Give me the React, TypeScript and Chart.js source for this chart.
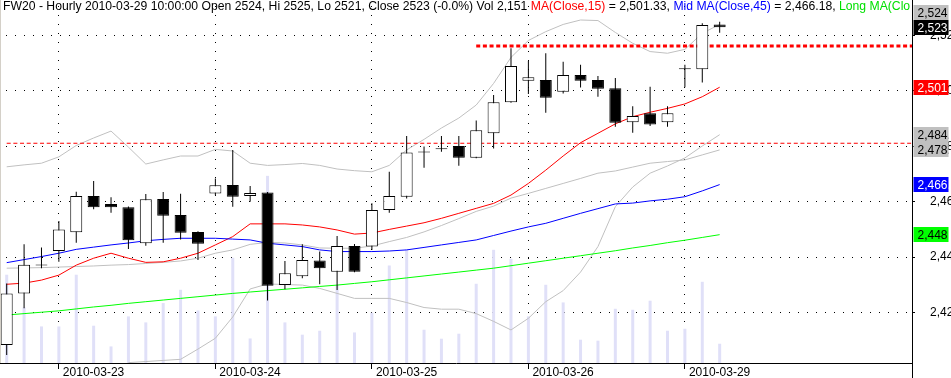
import React, { useEffect, useRef } from 'react';
import { Chart, registerables } from 'chart.js';

Chart.register(...registerables);

// ---- data (hourly candles, 2010-03-22 .. 2010-03-29) ----
const opens = [2408.3, 2426.9, 2437.0, 2442.2, 2449.0, 2462.1, 2459.2, 2458.0, 2445.0, 2461.0, 2455.2, 2449.1, 2463.0, 2466.0, 2462.1, 2463.3, 2429.9, 2433.1, 2438.8, 2434.7, 2444.0, 2443.8, 2457.0, 2461.8, 2477.8, 2478.9, 2480.1, 2475.9, 2484.7, 2495.9, 2503.7, 2503.9, 2499.7, 2505.7, 2503.9, 2501.0, 2488.7, 2491.9, 2488.7, 2507.8, 2507.8, 2524];
const highs = [2430.5, 2444.6, 2443.5, 2453.0, 2463.6, 2467.5, 2461.6, 2458.3, 2462.8, 2463.5, 2462.9, 2449.3, 2468.4, 2478.7, 2465.7, 2463.5, 2438.6, 2444.6, 2442.0, 2447.6, 2444.7, 2459.4, 2470.8, 2483.7, 2479.9, 2483.7, 2483.7, 2489.3, 2498.5, 2515.4, 2510.8, 2513.6, 2510.5, 2509.4, 2505.4, 2504.7, 2494.5, 2501.5, 2494.5, 2509.4, 2524.4, 2525];
const lows = [2404.7, 2421.5, 2436.0, 2438.3, 2445.2, 2457.3, 2456.0, 2442.9, 2444.1, 2445.2, 2446.4, 2439.0, 2462.3, 2458.2, 2460.0, 2424.3, 2428.4, 2432.4, 2430.2, 2428.1, 2434.5, 2442.6, 2456.0, 2461.2, 2472.3, 2478.0, 2473.0, 2475.7, 2479.2, 2495.7, 2498.9, 2492.1, 2499.1, 2501.2, 2497.9, 2487.1, 2484.9, 2487.3, 2487.1, 2501.3, 2503.0, 2521];
const closes = [2426.9, 2437.2, 2437.0, 2450.0, 2462.1, 2458.0, 2458.0, 2446.1, 2460.9, 2454.9, 2448.8, 2444.8, 2465.9, 2461.8, 2463.1, 2429.7, 2434.2, 2439.0, 2436.0, 2444.0, 2434.7, 2457.0, 2462.1, 2477.8, 2477.8, 2478.9, 2475.9, 2485.8, 2495.9, 2509.0, 2504.9, 2497.5, 2505.7, 2503.7, 2500.8, 2488.5, 2490.9, 2487.9, 2491.9, 2507.8, 2523.8, 2523];
const volumes = [9850, 6200, 4080, 4080, 9850, 4160, 1850, 5200, 4530, 6690, 8170, 5860, 5200, 11740, 2740, 20880, 4530, 3160, 3600, 8700, 3410, 5610, 10880, 12630, 3710, 2710, 3270, 8840, 12630, 11630, 5200, 8730, 6760, 2600, 2490, 6050, 5940, 6950, 3600, 3820, 9060, 2151];

const maShort = [2430.2, 2430.6, 2431.7, 2433.5, 2437.1, 2439.6, 2441.4, 2439.6, 2438.1, 2438.3, 2439.6, 2441.4, 2444.4, 2447.4, 2452.0, 2452.0, 2452.0, 2451.6, 2450.9, 2449.8, 2448.3, 2448.7, 2450.0, 2451.2, 2452.4, 2454.0, 2455.8, 2457.6, 2459.4, 2462.4, 2466.6, 2471.4, 2476.5, 2481.3, 2484.7, 2488.1, 2490.7, 2492.3, 2493.7, 2495.3, 2497.9, 2501.33];
const maMid = [2438.0, 2439.1, 2440.2, 2441.4, 2442.8, 2443.6, 2444.4, 2445.1, 2445.9, 2446.4, 2446.8, 2446.8, 2446.8, 2446.5, 2446.2, 2445.0, 2444.4, 2443.8, 2442.6, 2442.0, 2442.0, 2442.0, 2442.2, 2442.6, 2443.5, 2444.4, 2445.3, 2446.2, 2447.8, 2449.4, 2450.9, 2452.2, 2454.0, 2455.8, 2457.5, 2459.2, 2459.5, 2460.3, 2460.9, 2461.8, 2463.9, 2466.18];
const maLong = [2419.1, 2419.6, 2420.1, 2420.6, 2421.3, 2422.0, 2422.6, 2423.3, 2423.9, 2424.5, 2425.1, 2425.7, 2426.3, 2426.9, 2427.4, 2427.9, 2428.4, 2428.9, 2429.4, 2429.9, 2430.5, 2431.1, 2431.8, 2432.5, 2433.2, 2433.9, 2434.6, 2435.3, 2436.0, 2436.9, 2437.8, 2438.7, 2439.6, 2440.5, 2441.4, 2442.3, 2443.3, 2444.2, 2445.2, 2446.1, 2447.1, 2448.1];

const bandUpper = [2472.6, 2473.3, 2473.9, 2476.2, 2480.3, 2483.0, 2485.5, 2479.7, 2473.6, 2475.1, 2476.5, 2476.5, 2478.9, 2478.3, 2473.9, 2473.1, 2473.4, 2473.8, 2473.1, 2471.8, 2471.2, 2470.8, 2473.1, 2478.7, 2482.5, 2486.6, 2490.2, 2494.9, 2502.7, 2512.1, 2518.2, 2521.4, 2524.0, 2525.6, 2525.4, 2521.1, 2517.2, 2514.2, 2513.6, 2515.0, 2520.8, 2524.0];
const bandInner = [2436.0, 2436.1, 2436.2, 2436.4, 2436.6, 2436.8, 2437.1, 2437.3, 2437.7, 2438.1, 2438.6, 2439.6, 2441.4, 2442.6, 2444.6, 2445.3, 2445.1, 2444.4, 2443.3, 2443.2, 2443.2, 2444.0, 2445.6, 2447.1, 2449.1, 2451.4, 2453.9, 2456.5, 2458.4, 2461.3, 2463.0, 2464.8, 2466.6, 2468.4, 2470.3, 2471.1, 2472.5, 2473.9, 2474.5, 2475.1, 2476.9, 2478.7];
const bandLower = [null, null, null, null, null, null, null, 2401.9, 2402.3, 2402.7, 2403.1, 2406.8, 2410.7, 2418.4, 2428.5, 2430.3, 2430.1, 2429.9, 2428.7, 2426.9, 2425.1, 2425.1, 2425.1, 2423.6, 2421.8, 2421.2, 2421.2, 2419.6, 2416.8, 2413.7, 2417.9, 2423.9, 2427.9, 2434.6, 2443.8, 2458.2, 2465.3, 2470.3, 2472.9, 2475.8, 2480.1, 2484.2];

const resistanceLevel = 2516.2;
const resistanceFrom = 27;
const supportLevel = 2481.1;
const supportFrom = 0;

const dayStartIndex = [3, 12, 21, 30, 39];
const dayLabels = ['2010-03-23', '2010-03-24', '2010-03-25', '2010-03-26', '2010-03-29'];
const priceTicks = [2420, 2440, 2460, 2480, 2500, 2520];

const titleParts: [string, string][] = [
  ['FW20 - Hourly 2010-03-29 10:00:00 Open 2524, Hi 2525, Lo 2521, Close 2523 (-0.0%) Vol 2,151 ', '#000000'],
  ['MA(Close,15)', '#ff0000'],
  [' = 2,501.33, ', '#000000'],
  ['Mid MA(Close,45)', '#0000ff'],
  [' = 2,466.18, ', '#000000'],
  ['Long MA(Close,90)', '#00e000'],
];

const X_MIN = -0.385;
const X_MAX = 52.06;
const Y_MIN = 2401.77;
const Y_MAX = 2532.82;
const VOL_MAX = 40500;
const FONT = '"Liberation Sans", Arial, sans-serif';

function fmt(v: number, d = 0): string {
  const s = v.toFixed(d);
  const [intPart, dec] = s.split('.');
  return intPart.replace(/\B(?=(\d{3})+(?!\d))/g, ',') + (dec ? '.' + dec : '');
}

export default function App() {
  const ref = useRef<HTMLCanvasElement>(null);

  useEffect(() => {
    const canvas = ref.current;
    if (!canvas) return;
    const last = opens.length - 1;
    const idx = opens.map((_, i) => i);
    const series = (arr: (number | null)[]) => idx.map((i) => ({ x: i, y: arr[i] }));

    const valueLabels = [
      { value: bandUpper[last], bg: '#c0c0c0', fg: '#000000', d: 0 },
      { value: closes[last], bg: '#000000', fg: '#ffffff', d: 2 },
      { value: maShort[last], bg: '#ff0000', fg: '#ffffff', d: 2 },
      { value: bandLower[last] as number, bg: '#c0c0c0', fg: '#000000', d: 2 },
      { value: bandInner[last], bg: '#c0c0c0', fg: '#000000', d: 2 },
      { value: maMid[last], bg: '#0000ff', fg: '#ffffff', d: 2 },
      { value: maLong[last], bg: '#00ff00', fg: '#000000', d: 0 },
    ];

    const overlay = {
      id: 'overlay',
      afterDraw(chart: any) {
        const { ctx, chartArea: ca, scales } = chart;
        ctx.save();
        const ax = Math.round(ca.right) + 0.5;
        ctx.strokeStyle = '#000';
        ctx.lineWidth = 1;
        ctx.beginPath();
        ctx.moveTo(ax, ca.bottom);
        ctx.lineTo(ax, chart.height);
        ctx.stroke();
        ctx.strokeStyle = '#d4d0c8';
        ctx.beginPath();
        ctx.moveTo(0.5, 0);
        ctx.lineTo(0.5, ca.bottom);
        ctx.stroke();
        // title
        ctx.save();
        ctx.beginPath();
        ctx.rect(ca.left, 0, ca.right - ca.left - 2, ca.bottom);
        ctx.clip();
        ctx.font = '12.2px ' + FONT;
        ctx.textBaseline = 'alphabetic';
        ctx.textAlign = 'left';
        let x = 3;
        for (const [t, c] of titleParts) {
          ctx.fillStyle = c;
          ctx.fillText(t, x, 10);
          x += ctx.measureText(t).width;
        }
        ctx.restore();
        // last-value labels on the price axis
        const yScale = scales.y;
        const sorted = [...valueLabels].sort((a, b) => a.value - b.value);
        const h = 15;
        let prev = Infinity;
        for (const item of sorted) {
          let cy = yScale.getPixelForValue(item.value);
          if (cy > prev - h) cy = prev - h;
          prev = cy;
          const bx = ax + 1;
          const bw = 35;
          const top = Math.round(cy - h / 2);
          ctx.save();
          ctx.fillStyle = item.bg;
          ctx.fillRect(bx, top, bw, h);
          ctx.beginPath();
          ctx.rect(bx, top, bw, h);
          ctx.clip();
          ctx.fillStyle = item.fg;
          ctx.font = '12px ' + FONT;
          ctx.textBaseline = 'alphabetic';
          ctx.fillText(fmt(item.value, item.d), bx + 4, top + 12);
          ctx.restore();
        }
        ctx.restore();
      },
    };

    const chart = new Chart(canvas, {
      type: 'bar',
      data: {
        datasets: [
          {
            type: 'bar',
            label: 'Volume',
            data: series(volumes) as any,
            yAxisID: 'yVol',
            backgroundColor: '#e0e0f8',
            borderWidth: 0,
            barThickness: 3,
            grouped: false,
            inflateAmount: 0,
            order: 20,
          } as any,
          { type: 'line', label: 'Upper', data: series(bandUpper), borderColor: '#c0c0c0', borderWidth: 1, pointRadius: 0, order: 15 } as any,
          { type: 'line', label: 'Inner', data: series(bandInner), borderColor: '#c0c0c0', borderWidth: 1, pointRadius: 0, order: 15 } as any,
          { type: 'line', label: 'Lower', data: series(bandLower), borderColor: '#c0c0c0', borderWidth: 1, pointRadius: 0, order: 15 } as any,
          { type: 'line', label: 'Long MA', data: series(maLong), borderColor: '#00ff00', borderWidth: 1, pointRadius: 0, order: 12 } as any,
          { type: 'line', label: 'Mid MA', data: series(maMid), borderColor: '#0000ff', borderWidth: 1, pointRadius: 0, order: 12 } as any,
          { type: 'line', label: 'MA', data: series(maShort), borderColor: '#ff0000', borderWidth: 1, pointRadius: 0, order: 12 } as any,
          {
            type: 'line',
            label: 'Support',
            data: [{ x: supportFrom, y: supportLevel }, { x: X_MAX, y: supportLevel }],
            borderColor: '#ff0000',
            borderWidth: 1,
            borderDash: [4, 2.67],
            borderCapStyle: 'butt',
            pointRadius: 0,
            order: 10,
          } as any,
          {
            type: 'line',
            label: 'Resistance',
            data: [{ x: resistanceFrom, y: resistanceLevel }, { x: X_MAX, y: resistanceLevel }],
            borderColor: '#ff0000',
            borderWidth: 3,
            borderDash: [4, 2.67],
            borderCapStyle: 'butt',
            pointRadius: 0,
            order: 10,
          } as any,
          {
            type: 'bar',
            label: 'Wick',
            data: idx.map((i) => ({ x: i, y: [lows[i], highs[i]] })) as any,
            backgroundColor: '#000000',
            borderWidth: 0,
            barThickness: 1,
            grouped: false,
            inflateAmount: 0,
            order: 3,
          } as any,
          {
            type: 'bar',
            label: 'Body',
            data: idx.map((i) => ({ x: i, y: [opens[i], closes[i]] })) as any,
            backgroundColor: idx.map((i) => (closes[i] >= opens[i] ? '#ffffff' : '#000000')),
            borderColor: '#000000',
            borderWidth: 1,
            borderSkipped: false,
            barThickness: 12,
            minBarLength: 1,
            grouped: false,
            inflateAmount: 0,
            order: 1,
          } as any,
        ],
      },
      options: {
        responsive: false,
        animation: false,
        devicePixelRatio: 1,
        events: [],
        layout: { padding: 0 },
        plugins: {
          legend: { display: false },
          tooltip: { enabled: false },
          title: { display: false },
        },
        elements: { line: { tension: 0 } },
        scales: {
          x: {
            type: 'linear',
            min: X_MIN,
            max: X_MAX,
            offset: false,
            grid: { offset: false, color: '#000000', lineWidth: 1, drawTicks: true, tickLength: 6, tickColor: '#000000' },
            border: { display: true, color: '#000000', width: 1, dash: [1, 8], dashOffset: 3 },
            ticks: {
              autoSkip: false,
              maxRotation: 0,
              minRotation: 0,
              align: 'start',
              labelOffset: 4,
              padding: -4,
              color: '#000000',
              font: { size: 12, family: FONT },
              callback: (v: any) => {
                const k = dayStartIndex.indexOf(Number(v));
                return k >= 0 ? dayLabels[k] : '';
              },
            },
            afterBuildTicks: (s: any) => {
              s.ticks = dayStartIndex.map((v) => ({ value: v }));
            },
            afterFit: (s: any) => {
              s.height = 15;
              s.paddingLeft = 0;
              s.paddingRight = 0;
            },
          },
          y: {
            type: 'linear',
            position: 'right',
            min: Y_MIN,
            max: Y_MAX,
            grid: { color: '#000000', lineWidth: 1, drawTicks: true, tickLength: 3, tickColor: '#000000' },
            border: { display: true, color: '#000000', width: 1, dash: [1, 8], dashOffset: 3 },
            ticks: {
              padding: 15,
              color: '#000000',
              font: { size: 12, family: FONT },
              callback: (v: any) => fmt(Number(v)),
            },
            afterBuildTicks: (s: any) => {
              s.ticks = priceTicks.map((v) => ({ value: v }));
            },
            afterFit: (s: any) => {
              s.width = 39;
              s.paddingTop = 0;
              s.paddingBottom = 0;
            },
          },
          yVol: {
            type: 'linear',
            display: false,
            min: 0,
            max: VOL_MAX,
            afterFit: (s: any) => {
              s.paddingTop = 0;
              s.paddingBottom = 0;
            },
          },
        },
      } as any,
      plugins: [overlay],
    });

    return () => chart.destroy();
  }, []);

  return (
    <div style={{ position: 'absolute', left: 0, top: 0, width: 951, height: 378, background: '#ffffff' }}>
      <canvas ref={ref} width={951} height={378} style={{ display: 'block', width: 951, height: 378 }} />
    </div>
  );
}
